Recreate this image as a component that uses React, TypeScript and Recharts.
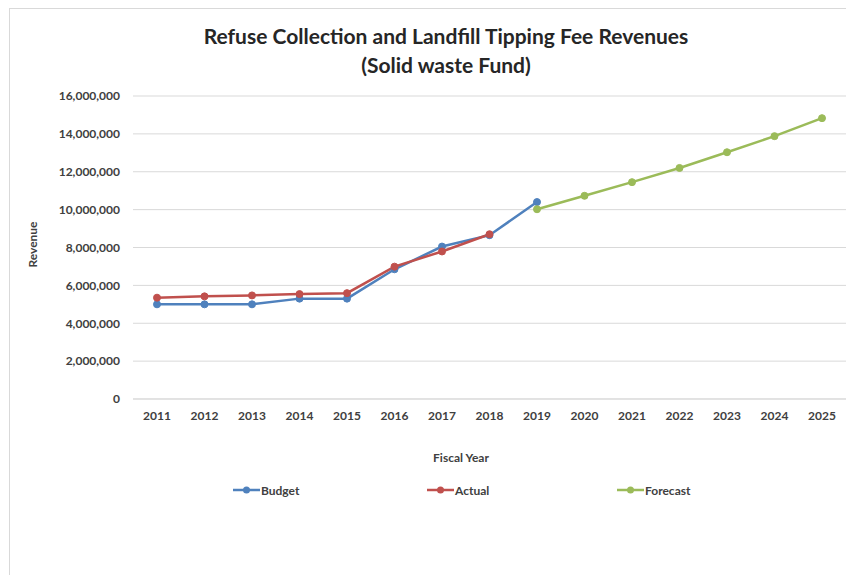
import React from "react";
import { LineChart, Line, XAxis, YAxis, CartesianGrid } from "recharts";

const years = ["2011","2012","2013","2014","2015","2016","2017","2018","2019","2020","2021","2022","2023","2024","2025"];
const budget = [5000000, 5000000, 5000000, 5300000, 5300000, 6850000, 8050000, 8650000, 10400000, null, null, null, null, null, null];
const actual = [5350000, 5420000, 5470000, 5540000, 5590000, 6990000, 7790000, 8700000, null, null, null, null, null, null, null];
const forecast = [null, null, null, null, null, null, null, null, 10020000, 10730000, 11450000, 12200000, 13030000, 13880000, 14830000];
const yTicks = [0, 2000000, 4000000, 6000000, 8000000, 10000000, 12000000, 14000000, 16000000];

const series = [
  { key: "Budget", color: "#4f81bd", left: 233 },
  { key: "Actual", color: "#c0504d", left: 427 },
  { key: "Forecast", color: "#9bbb59", left: 617 },
];

const data = years.map((y, i) => ({
  year: y,
  Budget: budget[i],
  Actual: actual[i],
  Forecast: forecast[i],
}));

const FONT = "Lato, 'Open Sans', sans-serif";
const TXT = "#404040";

export default function App() {
  return (
    <div style={{ position: "absolute", left: 0, top: 0, width: 846, height: 575, overflow: "hidden", background: "#fff", fontFamily: FONT }}>
      <div style={{ position: "absolute", left: 9, top: 8, width: 900, height: 700, border: "1px solid #d9d9d9", boxSizing: "border-box" }} />
      <div style={{ position: "absolute", left: 0, top: 21, width: 892, textAlign: "center", fontWeight: 700, fontSize: 21, lineHeight: "29px", color: "#262626" }}>
        Refuse Collection and Landfill Tipping Fee Revenues<br />(Solid waste Fund)
      </div>
      <div style={{ position: "absolute", left: 0, top: 0 }}>
        <LineChart width={846} height={575} data={data} margin={{ top: 96, right: 0, bottom: 146, left: 20 }}>
          <CartesianGrid vertical={false} stroke="#d9d9d9" strokeWidth={1} />
          <XAxis
            dataKey="year"
            height={30}
            padding={{ left: 24, right: 24 }}
            tickLine={false}
            tickSize={0}
            tickMargin={12}
            interval={0}
            axisLine={{ stroke: "#d9d9d9" }}
            tick={{ fill: TXT, fontSize: 12, fontWeight: 700, fontFamily: FONT }}
            label={{
              content: (p: any) => (
                <text x={461} y={p.viewBox.y + 63} textAnchor="middle" fill={TXT} fontSize={12} fontWeight={700} fontFamily={FONT}>
                  Fiscal Year
                </text>
              ),
            }}
          />
          <YAxis
            width={113}
            domain={[0, 16000000]}
            ticks={yTicks}
            interval={0}
            axisLine={false}
            tickLine={false}
            tickSize={0}
            tickMargin={13}
            tickFormatter={(v: number) => v.toLocaleString("en-US")}
            tick={{ fill: TXT, fontSize: 12, fontWeight: 700, fontFamily: FONT }}
            label={{
              content: (p: any) => {
                const x = 32;
                const y = p.viewBox.y + p.viewBox.height / 2 - 3;
                return (
                  <text x={x} y={y} transform={`rotate(-90, ${x}, ${y})`} textAnchor="middle" dominantBaseline="central" fill={TXT} fontSize={12} fontWeight={700} fontFamily={FONT}>
                    Revenue
                  </text>
                );
              },
            }}
          />
          {series.map((s) => (
            <Line
              key={s.key}
              type="linear"
              dataKey={s.key}
              stroke={s.color}
              strokeWidth={2.5}
              dot={{ r: 3.5, fill: s.color, stroke: s.color, strokeWidth: 1 }}
              activeDot={false}
              connectNulls={false}
              isAnimationActive={false}
            />
          ))}
        </LineChart>
      </div>
      {series.map((s) => (
        <div key={s.key} style={{ position: "absolute", left: s.left, top: 482, height: 16, display: "flex", alignItems: "center", fontSize: 12, fontWeight: 700, color: TXT }}>
          <svg width={27} height={10} style={{ marginRight: 1 }}>
            <line x1={0} y1={5} x2={27} y2={5} stroke={s.color} strokeWidth={2.5} />
            <circle cx={13.5} cy={5} r={3.5} fill={s.color} />
          </svg>
          <span>{s.key}</span>
        </div>
      ))}
    </div>
  );
}
